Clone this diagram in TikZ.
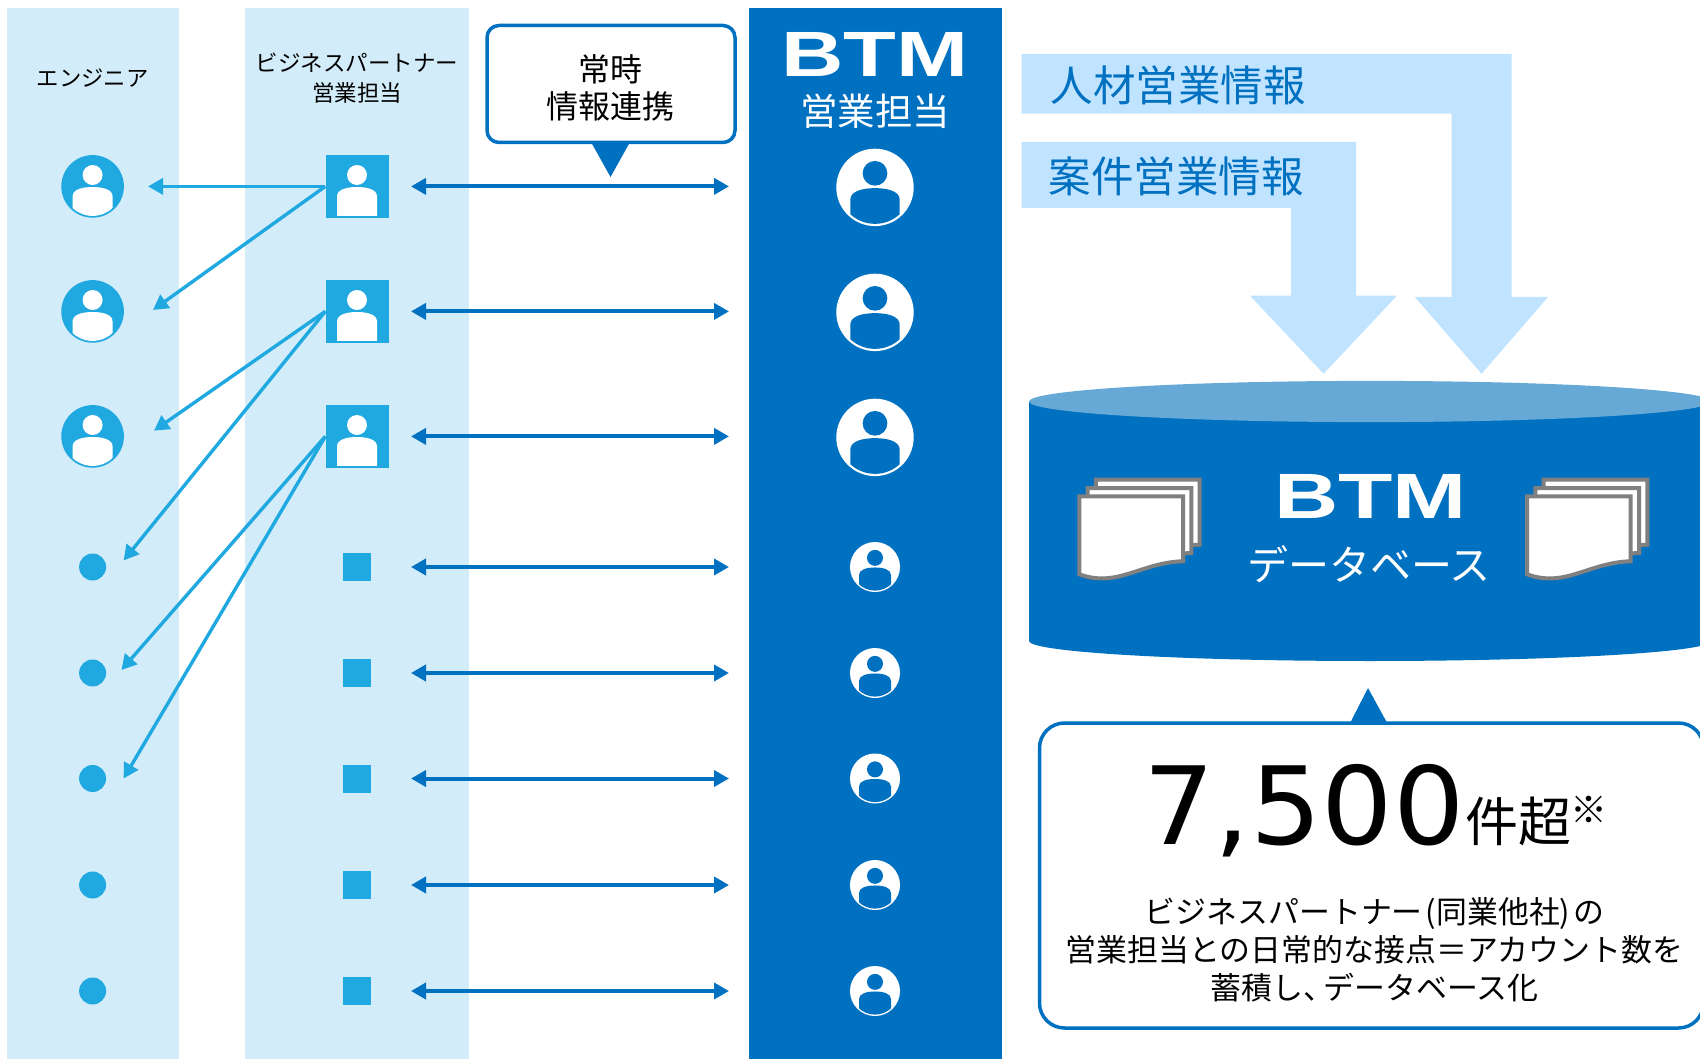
\documentclass[tikz,border=0pt]{standalone}
\usepackage{fontspec}
\usetikzlibrary{arrows.meta}
\setmainfont{Noto Sans CJK JP}
\newfontfamily\latinfont{DejaVu Sans}
\newfontfamily\logofont{Liberation Sans}
\definecolor{btmblue}{HTML}{0070C0}
\definecolor{partcyan}{HTML}{20A8E0}
\definecolor{colpale}{HTML}{D3ECF9}
\definecolor{flowpale}{HTML}{C0E4FF}
\definecolor{lidblue}{HTML}{66A9D7}
\definecolor{sheetgrey}{HTML}{808080}
\newcommand{\jp}[2]{\fontsize{#1}{#2}\selectfont}
\newcommand{\personicon}[4]{%
  \begin{scope}[shift={(#1)},scale=#2]
    \fill[#3] (0,-11.4) circle (10);
    \begin{scope}
      \clip #4;
      \fill[#3] (-20,10) .. controls (-20,3) and (-10,0.6) .. (0,0.6)
        .. controls (10,0.6) and (20,3) .. (20,10) -- (20,40) -- (-20,40) -- cycle;
    \end{scope}
  \end{scope}}
\newcommand{\sheetstack}[1]{%
  \begin{scope}[shift={(#1)}]
    \foreach \d in {16.6,8.3,0}
      \draw[sheet,shift={(\d,-\d)}] (0,0) -- (103.7,0) -- (103.7,65)
        .. controls (62,66) and (38,92) .. (0,78) -- cycle;
  \end{scope}}
\tikzset{
  sheet/.style = {draw=sheetgrey, fill=white, line width=4pt},
  engbig/.style = {circle, fill=partcyan, minimum size=62.6pt, inner sep=0pt},
  engsmall/.style = {circle, fill=partcyan, minimum size=27pt, inner sep=0pt},
  bpbig/.style = {rectangle, fill=partcyan, minimum size=63pt, inner sep=0pt},
  bpsmall/.style = {rectangle, fill=partcyan, minimum size=28pt, inner sep=0pt},
  repbig/.style = {circle, fill=white, minimum size=77.4pt, inner sep=0pt},
  repsmall/.style = {circle, fill=white, minimum size=50pt, inner sep=0pt},
  synclink/.style = {btmblue, line width=4pt, shorten <=54pt, shorten >=146pt,
    {Triangle[length=15pt,width=16pt]}-{Triangle[length=15pt,width=16pt]}},
  assignlink/.style = {partcyan, line width=3.4pt, -{Triangle[length=15pt,width=16pt]}},
  callout/.style = {draw=btmblue, fill=white, line width=3.5pt, align=center, inner sep=0pt},
  flowtext/.style = {text=btmblue, font=\jp{42.5}{50}},
  btmlogo/.style = {text=white, inner sep=0pt, font=\logofont\bfseries\jp{64}{64}},
}
\begin{document}
\begin{tikzpicture}[x=1pt,y=-1pt]
  \useasboundingbox (0,0) rectangle (1700,1059);
  \clip (0,0) rectangle (1700,1059);
  % columns
  \fill[colpale] (7,8) rectangle (179,1059);
  \fill[colpale] (245,8) rectangle (469,1059);
  \fill[btmblue] (749,8) rectangle (1002,1059);
  \node[font=\jp{22.3}{28}] (englabel) at (92.6,78) {エンジニア};
  \node[align=center, font=\jp{22.5}{30}] (bplabel) at (357,78) {ビジネスパートナー\\営業担当};
  % people, upper rows
  \foreach \i/\y in {1/186.4,2/311.4,3/436.4} {
    \node[engbig] (eng\i) at (92.6,\y) {};
    \node[bpbig] (bp\i) at (357,\y) {};
    \node[repbig] (rep\i) at (875,\y+1) {};
    \personicon{eng\i.center}{1}{white}{(0,0) circle (29.5)}
    \personicon{bp\i.center}{1}{white}{(-30,-30) rectangle (30,29)}
    \personicon{rep\i.center}{1.236}{btmblue}{(0,0) circle (29.5)}
  }
  % people, lower rows
  \foreach \i/\y in {4/567,5/673,6/778.5,7/885,8/991} {
    \node[engsmall] (eng\i) at (92.6,\y) {};
    \node[bpsmall] (bp\i) at (357,\y) {};
    \node[repsmall] (rep\i) at (875,\y) {};
    \personicon{rep\i.center}{0.8}{btmblue}{(0,0) circle (29.5)}
  }
  % links
  \foreach \i in {1,...,8}
    \draw[synclink] (bp\i.center) -- (bp\i.center -| rep\i.center);
  \coordinate (tip1) at (148,186.4);
  \coordinate (tip2) at (153,310);
  \coordinate (tip3) at (154,430.7);
  \coordinate (tip4) at (123.6,560.5);
  \coordinate (tip5) at (121.4,670);
  \coordinate (tip6) at (123.6,778.5);
  \draw[assignlink] (bp1.west) -- (tip1);
  \draw[assignlink] (bp1.west) -- (tip2);
  \draw[assignlink] (bp2.west) -- (tip3);
  \draw[assignlink] (bp2.west) -- (tip4);
  \draw[assignlink] (bp3.west) -- (tip5);
  \draw[assignlink] (bp3.west) -- (tip6);
  % always-on callout
  \fill[btmblue] (591,142) -- (630,142) -- (610.5,177) -- cycle;
  \node[callout, rounded corners=12pt, minimum width=248pt, minimum height=117pt] (syncbox) at (611,84) {};
  \node[align=center, font=\jp{32}{37}] (synctext) at (610.5,88) {常時\\情報連携};
  % BTM head of column
  \node[btmlogo, xscale=1.35] (btmtop) at (875,54) {BTM};
  \node[text=white, font=\jp{37.5}{40}] (saleslabel) at (875,111) {営業担当};
  % info flows
  \fill[flowpale] (1021.7,53.8) -- (1511.6,53.8) -- (1511.6,297) -- (1548,297) -- (1481.6,373.8)
    -- (1414.8,297) -- (1451.6,297) -- (1451.6,113.6) -- (1021.7,113.6) -- cycle;
  \fill[flowpale] (1021.7,141.8) -- (1356,141.8) -- (1356,295.7) -- (1397,295.7) -- (1323.6,373.8)
    -- (1250,295.7) -- (1291,295.7) -- (1291,208) -- (1021.7,208) -- cycle;
  \node[flowtext] (staffflow) at (1178,85) {人材営業情報};
  \node[flowtext] (caseflow) at (1176,176) {案件営業情報};
  % database
  \fill[btmblue] (1029,401.5) rectangle (1711,641);
  \fill[btmblue] (1370,641) circle [x radius=341, y radius=20];
  \fill[lidblue] (1370,401.5) circle [x radius=341, y radius=20.6];
  \sheetstack{1079.3,496.3}
  \sheetstack{1527,496.3}
  \node[btmlogo, xscale=1.39] (btmdb) at (1370.5,496) {BTM};
  \node[text=white, font=\jp{41}{46}] (dblabel) at (1369,564) {データベース};
  % count callout
  \fill[btmblue] (1349.6,724) -- (1387.7,724) -- (1368,688) -- cycle;
  \node[callout, rounded corners=25pt, minimum width=664pt, minimum height=305pt] (countbox) at (1371.5,875.5) {};
  \node[inner sep=0pt, xscale=1.04, font=\latinfont\jp{108}{110}] (countnum) at (1304,811) {7,500};
  \node[inner sep=0pt, font=\jp{53}{56}] (countunit) at (1518,821) {件超};
  \node[inner sep=0pt, font=\jp{37}{40}] (countmark) at (1589,810) {※};
  \node[align=center, font=\jp{30.9}{38}] (countnote) at (1374.5,950) {ビジネスパートナー\kern3pt(同業他社)\kern3pt の\\営業担当との日常的な接点＝アカウント数を\\蓄積し、\kern-11pt データベース化};
\end{tikzpicture}
\end{document}
